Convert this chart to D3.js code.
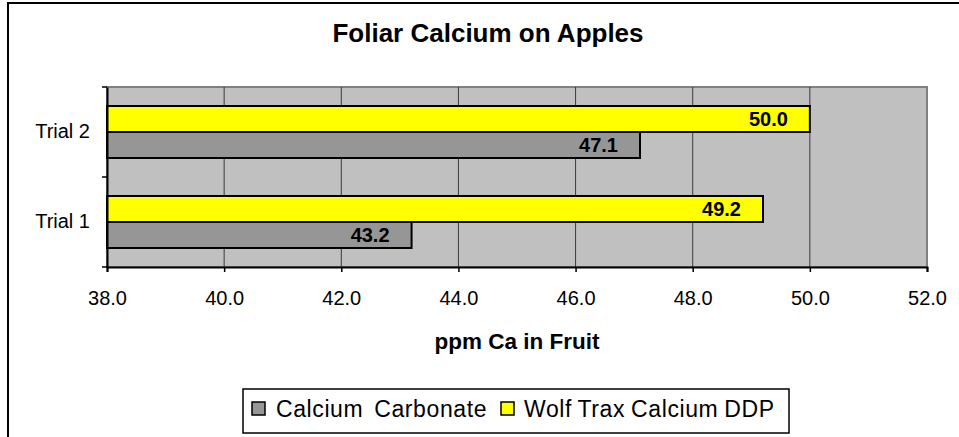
<!DOCTYPE html>
<html><head><meta charset="utf-8">
<script src="https://cdn.jsdelivr.net/npm/d3@7"></script>
<style>body{margin:0;background:#fff}svg{display:block;font-family:Arial,"Liberation Sans",sans-serif}</style>
</head><body><svg id="c" width="959" height="437"></svg>
<script>
const categories = ["Trial 1", "Trial 2"];
const seriesNames = ["Calcium Carbonate", "Wolf Trax Calcium DDP"];
const calciumCarbonate = [43.2, 47.1];
const wolfTrax = [49.2, 50.0];
const xTicks = [38, 40, 42, 44, 46, 48, 50, 52];
const colors = ["#969696", "#FFFF00"];
const values = [calciumCarbonate, wolfTrax];
const FONT = "Arial,'Liberation Sans',sans-serif";

const svg = d3.select("#c");
// outer frame
svg.append("rect").attr("x", 8).attr("y", 3).attr("width", 1000).attr("height", 1000)
  .attr("fill", "#fff").attr("stroke", "#000").attr("stroke-width", 2);

const L = 107, R = 927, T = 87, B = 267;
const x = d3.scaleLinear().domain([38, 52]).range([L, R]);
const y = d3.scaleBand().domain(categories.slice().reverse()).range([T, B]);
const barH = 26;
const inner = d3.scaleBand().domain([1, 0]).range([0, 2 * barH]);

svg.append("rect").attr("x", L).attr("y", T).attr("width", R - L).attr("height", B - T)
  .attr("fill", "#C0C0C0").attr("stroke", "#808080").attr("stroke-width", 2);

// gridlines
svg.append("g").selectAll("line").data(xTicks.slice(1, -1)).join("line")
  .attr("x1", d => x(d)).attr("x2", d => x(d)).attr("y1", T).attr("y2", B)
  .attr("stroke", "#3a3a3a").attr("stroke-width", 1);

// bars
const bw = y.bandwidth();
const off = (bw - 2 * barH) / 2;
[0, 1].forEach(s => {
  const g = svg.append("g");
  categories.forEach((c, i) => {
    const v = values[s][i];
    const yy = y(c) + off + inner(s);
    g.append("rect").attr("x", x(38)).attr("y", yy).attr("width", x(v) - x(38)).attr("height", barH)
      .attr("fill", colors[s]).attr("stroke", "#000").attr("stroke-width", 2);
    g.append("text").attr("x", x(v) - 22).attr("y", yy + barH / 2 + 7)
      .attr("text-anchor", "end").attr("font-size", 20).attr("font-weight", "bold").text(v.toFixed(1));
  });
});

// x axis
const xa = svg.append("g").attr("transform", `translate(0,${B})`)
  .call(d3.axisBottom(x).tickValues(xTicks).tickFormat(d3.format(".1f")).tickSize(5).tickPadding(19));
xa.select(".domain").attr("stroke", "#000").attr("stroke-width", 2);
xa.selectAll(".tick line").attr("stroke", "#000").attr("stroke-width", 1.5);
xa.selectAll("text").attr("font-size", 20).attr("font-family", FONT).attr("fill", "#000");

// y axis
const ya = svg.append("g").attr("transform", `translate(${L},0)`)
  .call(d3.axisLeft(y).tickSize(0).tickPadding(17));
ya.select(".domain").attr("stroke", "#000").attr("stroke-width", 2);
ya.selectAll("text").attr("font-size", 20).attr("font-family", FONT).attr("fill", "#000");
svg.append("g").selectAll("line").data([T, T + bw, B]).join("line")
  .attr("x1", L - 5).attr("x2", L).attr("y1", d => d).attr("y2", d => d)
  .attr("stroke", "#000").attr("stroke-width", 1.5);

// titles
svg.append("text").attr("x", 488).attr("y", 42).attr("text-anchor", "middle")
  .attr("font-size", 26).attr("font-weight", "bold").text("Foliar Calcium on Apples");
svg.append("text").attr("x", (L + R) / 2).attr("y", 349).attr("text-anchor", "middle")
  .attr("font-size", 22.5).attr("font-weight", "bold").text("ppm Ca in Fruit");

// legend
const lg = svg.append("g");
lg.append("rect").attr("x", 243).attr("y", 389).attr("width", 546).attr("height", 44)
  .attr("fill", "#fff").attr("stroke", "#000").attr("stroke-width", 1.5);
const items = [{x: 252, tx: 276, ws: 4}, {x: 501, tx: 524, ws: -1}];
items.forEach((it, i) => {
  lg.append("rect").attr("x", it.x).attr("y", 402).attr("width", 13).attr("height", 13)
    .attr("fill", colors[i]).attr("stroke", "#000").attr("stroke-width", 1.5);
  lg.append("text").attr("x", it.tx).attr("y", 417).attr("font-size", 23)
    .attr("letter-spacing", 0.6).attr("word-spacing", it.ws).text(seriesNames[i]);
});
</script></body></html>
